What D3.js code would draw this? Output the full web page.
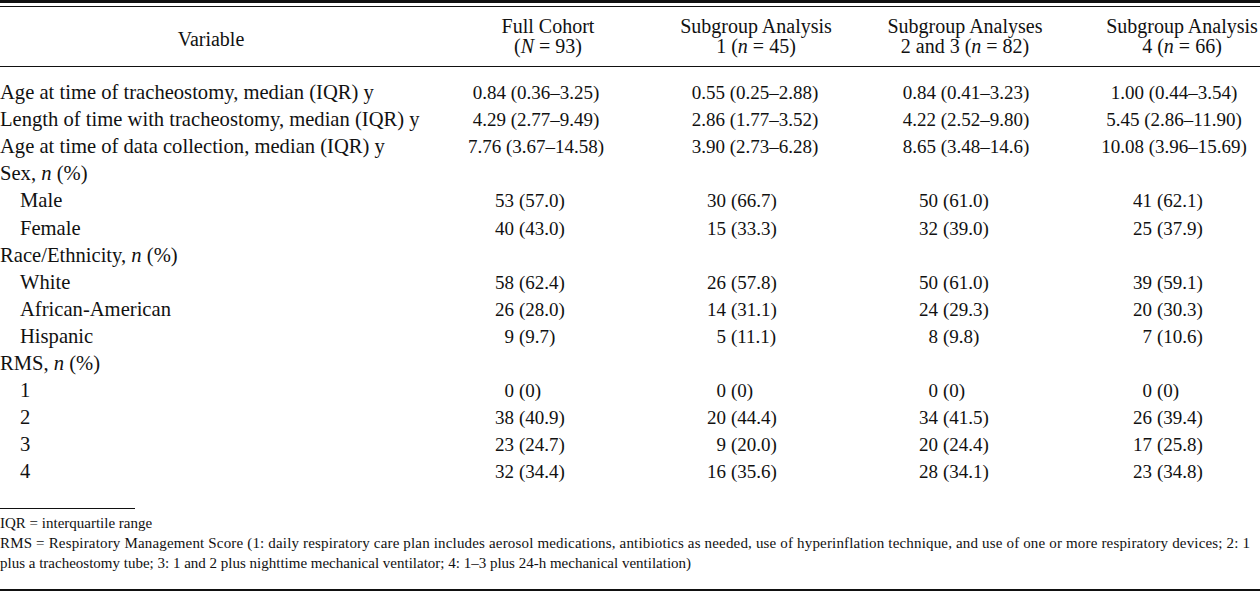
<!DOCTYPE html>
<html>
<head>
<meta charset="utf-8">
<script src="https://cdn.jsdelivr.net/npm/d3@7"></script>
<style>
  html, body { margin: 0; padding: 0; background: #fff; }
  svg { display: block; }
  text { font-family: "Liberation Serif", "Times New Roman", serif; fill: #111; }
</style>
</head>
<body>
<svg id="chart" width="1260" height="593"></svg>
<script>
// ---------- DATA ----------
const variableLabels = [
  "Age at time of tracheostomy, median (IQR) y",
  "Length of time with tracheostomy, median (IQR) y",
  "Age at time of data collection, median (IQR) y",
  "Sex, *n* (%)",
  "Male",
  "Female",
  "Race/Ethnicity, *n* (%)",
  "White",
  "African-American",
  "Hispanic",
  "RMS, *n* (%)",
  "1",
  "2",
  "3",
  "4"
];
const isSubRow = [false,false,false,false,true,true,false,true,true,true,false,true,true,true,true];
const isMedianRow = [true,true,true,false,false,false,false,false,false,false,false,false,false,false,false];

const columnHeaderLine1 = ["Full Cohort", "Subgroup Analysis", "Subgroup Analyses", "Subgroup Analysis"];
const columnHeaderLine2 = ["(*N* = 93)", "1 (*n* = 45)", "2 and 3 (*n* = 82)", "4 (*n* = 66)"];

const fullCohort = ["0.84 (0.36–3.25)","4.29 (2.77–9.49)","7.76 (3.67–14.58)","","53 (57.0)","40 (43.0)","","58 (62.4)","26 (28.0)","9 (9.7)","","0 (0)","38 (40.9)","23 (24.7)","32 (34.4)"];
const subgroup1 = ["0.55 (0.25–2.88)","2.86 (1.77–3.52)","3.90 (2.73–6.28)","","30 (66.7)","15 (33.3)","","26 (57.8)","14 (31.1)","5 (11.1)","","0 (0)","20 (44.4)","9 (20.0)","16 (35.6)"];
const subgroup23 = ["0.84 (0.41–3.23)","4.22 (2.52–9.80)","8.65 (3.48–14.6)","","50 (61.0)","32 (39.0)","","50 (61.0)","24 (29.3)","8 (9.8)","","0 (0)","34 (41.5)","20 (24.4)","28 (34.1)"];
const subgroup4 = ["1.00 (0.44–3.54)","5.45 (2.86–11.90)","10.08 (3.96–15.69)","","41 (62.1)","25 (37.9)","","39 (59.1)","20 (30.3)","7 (10.6)","","0 (0)","26 (39.4)","17 (25.8)","23 (34.8)"];

const footnotes = [
  "IQR = interquartile range",
  "RMS = Respiratory Management Score (1: daily respiratory care plan includes aerosol medications, antibiotics as needed, use of hyperinflation technique, and use of one or more respiratory devices; 2: 1",
  "plus a tracheostomy tube; 3: 1 and 2 plus nighttime mechanical ventilator; 4: 1–3 plus 24-h mechanical ventilation)"
];

// ---------- LAYOUT ----------
const W = 1260, H = 593;
const FS_LABEL = 20.6, FS_HEAD = 20, FS_VAL = 19, FS_NOTE = 15;
const columns = [fullCohort, subgroup1, subgroup23, subgroup4];
const colIdx = d3.range(columns.length);

const headerX = d3.scaleOrdinal().domain(colIdx).range([548, 756, 965, 1182]);
const medianX = d3.scaleOrdinal().domain(colIdx).range([536, 755, 966, 1174]);
const parenX  = d3.scaleOrdinal().domain(colIdx).range([519, 731, 943, 1157]);

const rowY = d3.scaleLinear().domain([0, variableLabels.length - 1]).range([99, 99 + 27.1 * (variableLabels.length - 1)]);

const svg = d3.select("#chart");
svg.append("rect").attr("width", W).attr("height", H).attr("fill", "#fff");

function addRich(sel, str) {
  const parts = str.split("*");
  parts.forEach((p, i) => {
    if (!p) return;
    const t = sel.append("tspan").text(p);
    if (i % 2 === 1) t.attr("font-style", "italic");
  });
  return sel;
}

// rules
svg.append("rect").attr("x", 0).attr("y", 0).attr("width", W).attr("height", 3).attr("fill", "#111");
svg.append("line").attr("x1", 0).attr("x2", W).attr("y1", 6.5).attr("y2", 6.5).attr("stroke", "#111").attr("stroke-width", 1);
svg.append("line").attr("x1", 0).attr("x2", W).attr("y1", 66.5).attr("y2", 66.5).attr("stroke", "#111").attr("stroke-width", 1.2);
svg.append("line").attr("x1", 0).attr("x2", 135).attr("y1", 508.5).attr("y2", 508.5).attr("stroke", "#111").attr("stroke-width", 1);
svg.append("rect").attr("x", 0).attr("y", 589).attr("width", W).attr("height", 2).attr("fill", "#111");

// header
svg.append("text").attr("x", 211).attr("y", 46).attr("text-anchor", "middle").attr("font-size", FS_HEAD).text("Variable");
const hdr = svg.append("g");
hdr.selectAll("text.h1").data(colIdx).join("text")
  .attr("class", "h1").attr("x", d => headerX(d)).attr("y", 33)
  .attr("text-anchor", "middle").attr("font-size", FS_HEAD)
  .text(d => columnHeaderLine1[d]);
hdr.selectAll("text.h2").data(colIdx).join("text")
  .attr("class", "h2").attr("x", d => headerX(d)).attr("y", 53)
  .attr("text-anchor", "middle").attr("font-size", FS_HEAD)
  .each(function(d) { addRich(d3.select(this), columnHeaderLine2[d]); });

// variable labels
svg.append("g").selectAll("text").data(variableLabels).join("text")
  .attr("x", (d, i) => isSubRow[i] ? 20 : 0)
  .attr("y", (d, i) => rowY(i))
  .attr("font-size", FS_LABEL)
  .each(function(d) { addRich(d3.select(this), d); });

// cells
colIdx.forEach(c => {
  const g = svg.append("g");
  const vals = columns[c].map((v, i) => ({ v, i })).filter(d => d.v !== "");
  vals.forEach(d => {
    if (isMedianRow[d.i]) {
      g.append("text").attr("x", medianX(c)).attr("y", rowY(d.i))
        .attr("text-anchor", "middle").attr("font-size", FS_VAL).text(d.v);
    } else {
      const k = d.v.indexOf("(");
      const cnt = d.v.slice(0, k).trim();
      const pct = d.v.slice(k);
      g.append("text").attr("x", parenX(c) - 5).attr("y", rowY(d.i))
        .attr("text-anchor", "end").attr("font-size", FS_VAL).text(cnt);
      g.append("text").attr("x", parenX(c)).attr("y", rowY(d.i))
        .attr("text-anchor", "start").attr("font-size", FS_VAL).text(pct);
    }
  });
});

// footnotes
const fn = svg.append("g");
fn.append("text").attr("x", 0).attr("y", 528).attr("font-size", FS_NOTE).text(footnotes[0]);
fn.append("text").attr("x", 0).attr("y", 548).attr("font-size", FS_NOTE)
  .attr("textLength", 1250).attr("lengthAdjust", "spacing").text(footnotes[1]);
fn.append("text").attr("x", 0).attr("y", 568).attr("font-size", FS_NOTE).text(footnotes[2]);
</script>
</body>
</html>
